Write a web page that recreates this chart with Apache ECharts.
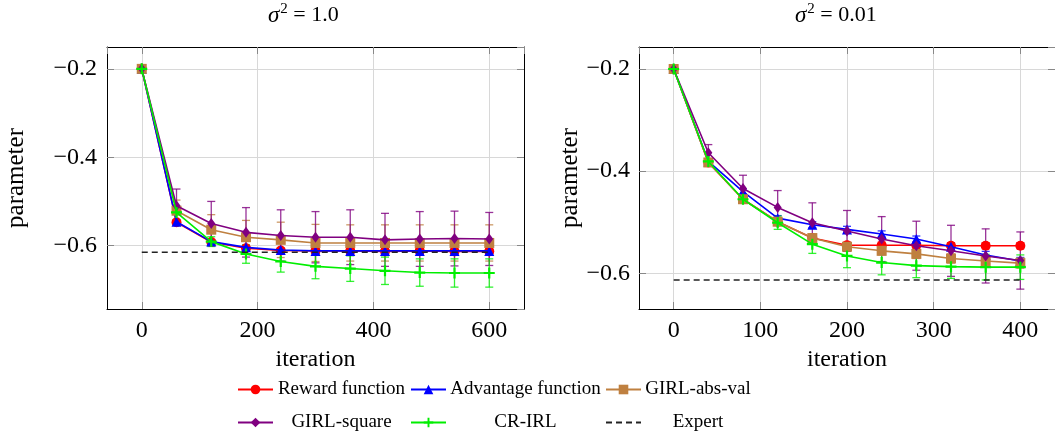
<!DOCTYPE html>
<html><head><meta charset="utf-8">
<script src="https://cdn.jsdelivr.net/npm/echarts@6/dist/echarts.min.js"></script>
<style>html,body{margin:0;padding:0;background:#fff}#c{width:1055px;height:442px}</style>
</head><body><div id="c"></div>
<script>
// ---------- data: left panel (sigma^2 = 1.0) ----------
const ITER_L = [0, 60, 120, 180, 240, 300, 360, 420, 480, 540, 600];
const REWARD_L = [-0.2, -0.547, -0.592, -0.606, -0.611, -0.612, -0.612, -0.613, -0.612, -0.613, -0.613];
const REWARD_L_ERR = [0, 0.005, 0.005, 0.005, 0.005, 0.005, 0.005, 0.005, 0.005, 0.005, 0.005];
const ADV_L = [-0.2, -0.546, -0.591, -0.604, -0.610, -0.612, -0.612, -0.612, -0.612, -0.612, -0.612];
const ADV_L_ERR = [0, 0.004, 0.004, 0.004, 0.004, 0.004, 0.004, 0.004, 0.004, 0.004, 0.004];
const ABS_L = [-0.2, -0.521, -0.564, -0.581, -0.587, -0.594, -0.594, -0.594, -0.594, -0.594, -0.594];
const ABS_L_ERR = [0, 0.024, 0.034, 0.038, 0.040, 0.042, 0.041, 0.041, 0.041, 0.041, 0.041];
const SQ_L = [-0.2, -0.510, -0.550, -0.570, -0.577, -0.581, -0.581, -0.587, -0.585, -0.584, -0.585];
const SQ_L_ERR = [0, 0.038, 0.050, 0.056, 0.058, 0.058, 0.062, 0.060, 0.062, 0.062, 0.060];
const CR_L = [-0.2, -0.525, -0.591, -0.619, -0.636, -0.647, -0.652, -0.657, -0.661, -0.662, -0.662];
const CR_L_ERR = [0, 0.005, 0.011, 0.021, 0.024, 0.028, 0.029, 0.031, 0.031, 0.032, 0.032];
const EXPERT_L = -0.615;

// ---------- data: right panel (sigma^2 = 0.01) ----------
const ITER_R = [0, 40, 80, 120, 160, 200, 240, 280, 320, 360, 400];
const REWARD_R = [-0.2, -0.383, -0.455, -0.499, -0.531, -0.545, -0.545, -0.545, -0.546, -0.546, -0.546];
const REWARD_R_ERR = [0, 0.004, 0.005, 0.006, 0.006, 0.006, 0.006, 0.006, 0.006, 0.006, 0.006];
const ADV_R = [-0.2, -0.381, -0.440, -0.492, -0.505, -0.514, -0.523, -0.533, -0.548, -0.564, -0.576];
const ADV_R_ERR = [0, 0.004, 0.005, 0.005, 0.006, 0.006, 0.006, 0.006, 0.006, 0.007, 0.007];
const ABS_R = [-0.2, -0.383, -0.455, -0.499, -0.531, -0.548, -0.556, -0.562, -0.571, -0.576, -0.580];
const ABS_R_ERR = [0, 0.004, 0.005, 0.006, 0.007, 0.008, 0.008, 0.009, 0.009, 0.010, 0.010];
const SQ_R = [-0.2, -0.364, -0.434, -0.471, -0.501, -0.517, -0.533, -0.546, -0.556, -0.566, -0.575];
const SQ_R_ERR = [0, 0.016, 0.026, 0.033, 0.039, 0.040, 0.044, 0.048, 0.050, 0.053, 0.056];
const CR_R = [-0.2, -0.381, -0.455, -0.501, -0.543, -0.566, -0.579, -0.585, -0.587, -0.588, -0.588];
const CR_R_ERR = [0, 0.004, 0.006, 0.013, 0.018, 0.023, 0.024, 0.0235, 0.023, 0.025, 0.024];
const EXPERT_R = -0.613;

const TITLES = ['σ² = 1.0', 'σ² = 0.01'];
const NAMES = ['Reward function', 'Advantage function', 'GIRL-abs-val', 'GIRL-square', 'CR-IRL', 'Expert'];
const X_NAME = 'iteration';
const Y_NAME = 'parameter';

// ---------- styles ----------
const FONT = 'Liberation Serif';
const COLORS = ['#ff0000', '#0000ff', '#bf8040', '#800080', '#00ee00', '#222222'];
const PLUS = 'path://M4,0 L6,0 L6,4 L10,4 L10,6 L6,6 L6,10 L4,10 L4,6 L0,6 L0,4 L4,4 Z';
const SYMBOLS = ['circle', 'triangle', 'rect', 'diamond', PLUS];
const SYMSIZE = [10, 10, 10, [8, 11], 11];

const chart = echarts.init(document.getElementById('c'), null, {renderer: 'canvas'});

function pairs(xs, ys) { return xs.map((x, i) => [x, ys[i]]); }
function triples(xs, ys, es) { return xs.map((x, i) => [x, ys[i], es[i]]); }

function lineSeries(k, xs, ys, xi) {
  return {
    type: 'line', name: NAMES[k], xAxisIndex: xi, yAxisIndex: xi,
    data: pairs(xs, ys), symbol: SYMBOLS[k], symbolSize: SYMSIZE[k], showAllSymbol: true,
    color: COLORS[k], lineStyle: {width: 1.6, color: COLORS[k]}, itemStyle: {color: COLORS[k]},
    z: 3 + k * 0.1, animation: false, emphasis: {disabled: true}
  };
}
function errSeries(k, xs, ys, es, xi) {
  return {
    type: 'custom', name: NAMES[k] + ' (error)', xAxisIndex: xi, yAxisIndex: xi,
    data: triples(xs, ys, es), z: 2, animation: false, silent: true, color: COLORS[k],
    renderItem: function (params, api) {
      const x = api.value(0), m = api.value(1), e = api.value(2);
      if (!e) return null;
      const top = api.coord([x, m + e]), bot = api.coord([x, m - e]);
      const w = 4;
      const st = {stroke: COLORS[k], lineWidth: 1.3, opacity: 0.8};
      return {type: 'group', children: [
        {type: 'line', shape: {x1: top[0], y1: top[1], x2: bot[0], y2: bot[1]}, style: st},
        {type: 'line', shape: {x1: top[0] - w, y1: top[1], x2: top[0] + w, y2: top[1]}, style: st},
        {type: 'line', shape: {x1: bot[0] - w, y1: bot[1], x2: bot[0] + w, y2: bot[1]}, style: st}
      ]};
    }
  };
}
function expertSeries(xs, v, xi) {
  return {
    type: 'line', name: NAMES[5], xAxisIndex: xi, yAxisIndex: xi,
    data: [[xs[0], v], [xs[xs.length - 1], v]], symbol: 'none', color: COLORS[5],
    lineStyle: {width: 1.6, type: [6, 4], color: COLORS[5]}, z: 4, animation: false
  };
}

function fmtY(v) { return (v < 0 ? '\u2212' : '') + Math.abs(v).toFixed(1); }
const tickStyle = {show: true, inside: true, length: 7, lineStyle: {color: '#888', width: 1}};
const frameLine = {show: true, onZero: false, lineStyle: {color: '#000', width: 1}};
const labelStyle = {fontFamily: FONT, fontSize: 24, color: '#000'};

function mainX(gi, min, max, split, gap) {
  return {type: 'value', gridIndex: gi, position: 'bottom', min, max, splitNumber: split,
    axisLine: frameLine, axisTick: tickStyle,
    axisLabel: Object.assign({margin: 10, showMinLabel: false, showMaxLabel: false}, labelStyle),
    splitLine: {show: true, lineStyle: {color: '#d8d8d8', width: 1}},
    name: X_NAME, nameLocation: 'middle', nameGap: gap,
    nameTextStyle: {fontFamily: FONT, fontSize: 24, color: '#000'}};
}
function mirrorX(gi, min, max, split) {
  return {type: 'value', gridIndex: gi, position: 'top', min, max, splitNumber: split,
    axisLine: frameLine, axisTick: tickStyle, axisLabel: {show: false}, splitLine: {show: false}};
}
function mainY(gi, min, max, margin, gap) {
  return {type: 'value', gridIndex: gi, position: 'left', min, max, splitNumber: 3,
    axisLine: frameLine, axisTick: tickStyle,
    axisLabel: Object.assign({margin, formatter: fmtY, showMinLabel: false, showMaxLabel: false}, labelStyle),
    splitLine: {show: true, lineStyle: {color: '#d8d8d8', width: 1}},
    name: Y_NAME, nameLocation: 'middle', nameGap: gap,
    nameTextStyle: {fontFamily: FONT, fontSize: 25, color: '#000'}};
}
function mirrorY(gi, min, max) {
  return {type: 'value', gridIndex: gi, position: 'right', min, max, splitNumber: 3,
    axisLine: frameLine, axisTick: tickStyle, axisLabel: {show: false}, splitLine: {show: false}};
}

const series = [];
const L = [[REWARD_L, REWARD_L_ERR], [ADV_L, ADV_L_ERR], [ABS_L, ABS_L_ERR], [SQ_L, SQ_L_ERR], [CR_L, CR_L_ERR]];
const R = [[REWARD_R, REWARD_R_ERR], [ADV_R, ADV_R_ERR], [ABS_R, ABS_R_ERR], [SQ_R, SQ_R_ERR], [CR_R, CR_R_ERR]];
L.forEach((d, k) => series.push(lineSeries(k, ITER_L, d[0], 0)));
R.forEach((d, k) => series.push(lineSeries(k, ITER_R, d[0], 2)));
series.push(expertSeries(ITER_L, EXPERT_L, 0));
series.push(expertSeries(ITER_R, EXPERT_R, 2));
L.forEach((d, k) => series.push(errSeries(k, ITER_L, d[0], d[1], 0)));
R.forEach((d, k) => series.push(errSeries(k, ITER_R, d[0], d[1], 2)));

// legend: 3 columns x 2 rows, text centred inside each column cell
const COL_LEFT = [237, 410, 605];
const COL_TEXTW = [127, 149, 104];
const ROW_TOP = [380, 413];
const legends = NAMES.map((n, i) => {
  const col = i % 3, row = Math.floor(i / 3);
  const item = {name: n};
  if (n === 'Expert') item.itemStyle = {color: 'rgba(0,0,0,0)', borderWidth: 0, opacity: 0};
  return {
    data: [item], left: COL_LEFT[col], top: ROW_TOP[row], itemWidth: 35, itemHeight: 12,
    padding: 0, selectedMode: false,
    textStyle: {fontFamily: FONT, fontSize: 19, color: '#000',
      rich: {c: {width: COL_TEXTW[col], align: 'center', fontFamily: FONT, fontSize: 19, color: '#000'}}},
    formatter: s => '{c|' + s + '}'
  };
});

function titleRich(t) {
  const rest = t.replace('σ²', '');
  return '{i|σ}{s|2}{t|' + rest + '}';
}
const titleStyle = {
  fontFamily: FONT, fontSize: 22, color: '#000', fontWeight: 'normal',
  rich: {
    i: {fontFamily: FONT, fontSize: 23, fontStyle: 'italic', color: '#000'},
    s: {fontFamily: FONT, fontSize: 15, color: '#000', padding: [0, 0, 12, 1]},
    t: {fontFamily: FONT, fontSize: 22, color: '#000'}
  }
};

chart.setOption({
  backgroundColor: '#fff',
  animation: false,
  title: [
    {text: titleRich(TITLES[0]), left: 268, top: 2, padding: 0, textStyle: titleStyle},
    {text: titleRich(TITLES[1]), left: 795, top: 2, padding: 0, textStyle: titleStyle}
  ],
  legend: legends,
  grid: [
    {left: 107, top: 47, width: 417, height: 262},
    {left: 639, top: 47, width: 418, height: 262}
  ],
  xAxis: [mainX(0, -60, 660, 4, 38), mirrorX(0, -60, 660, 4), mainX(1, -40, 440, 5, 38), mirrorX(1, -40, 440, 5)],
  yAxis: [mainY(0, -0.7435, -0.1505, 10, 78), mirrorY(0, -0.7435, -0.1505), mainY(1, -0.6699, -0.1569, 9, 50), mirrorY(1, -0.6699, -0.1569)],
  series
});
</script>
</body></html>
